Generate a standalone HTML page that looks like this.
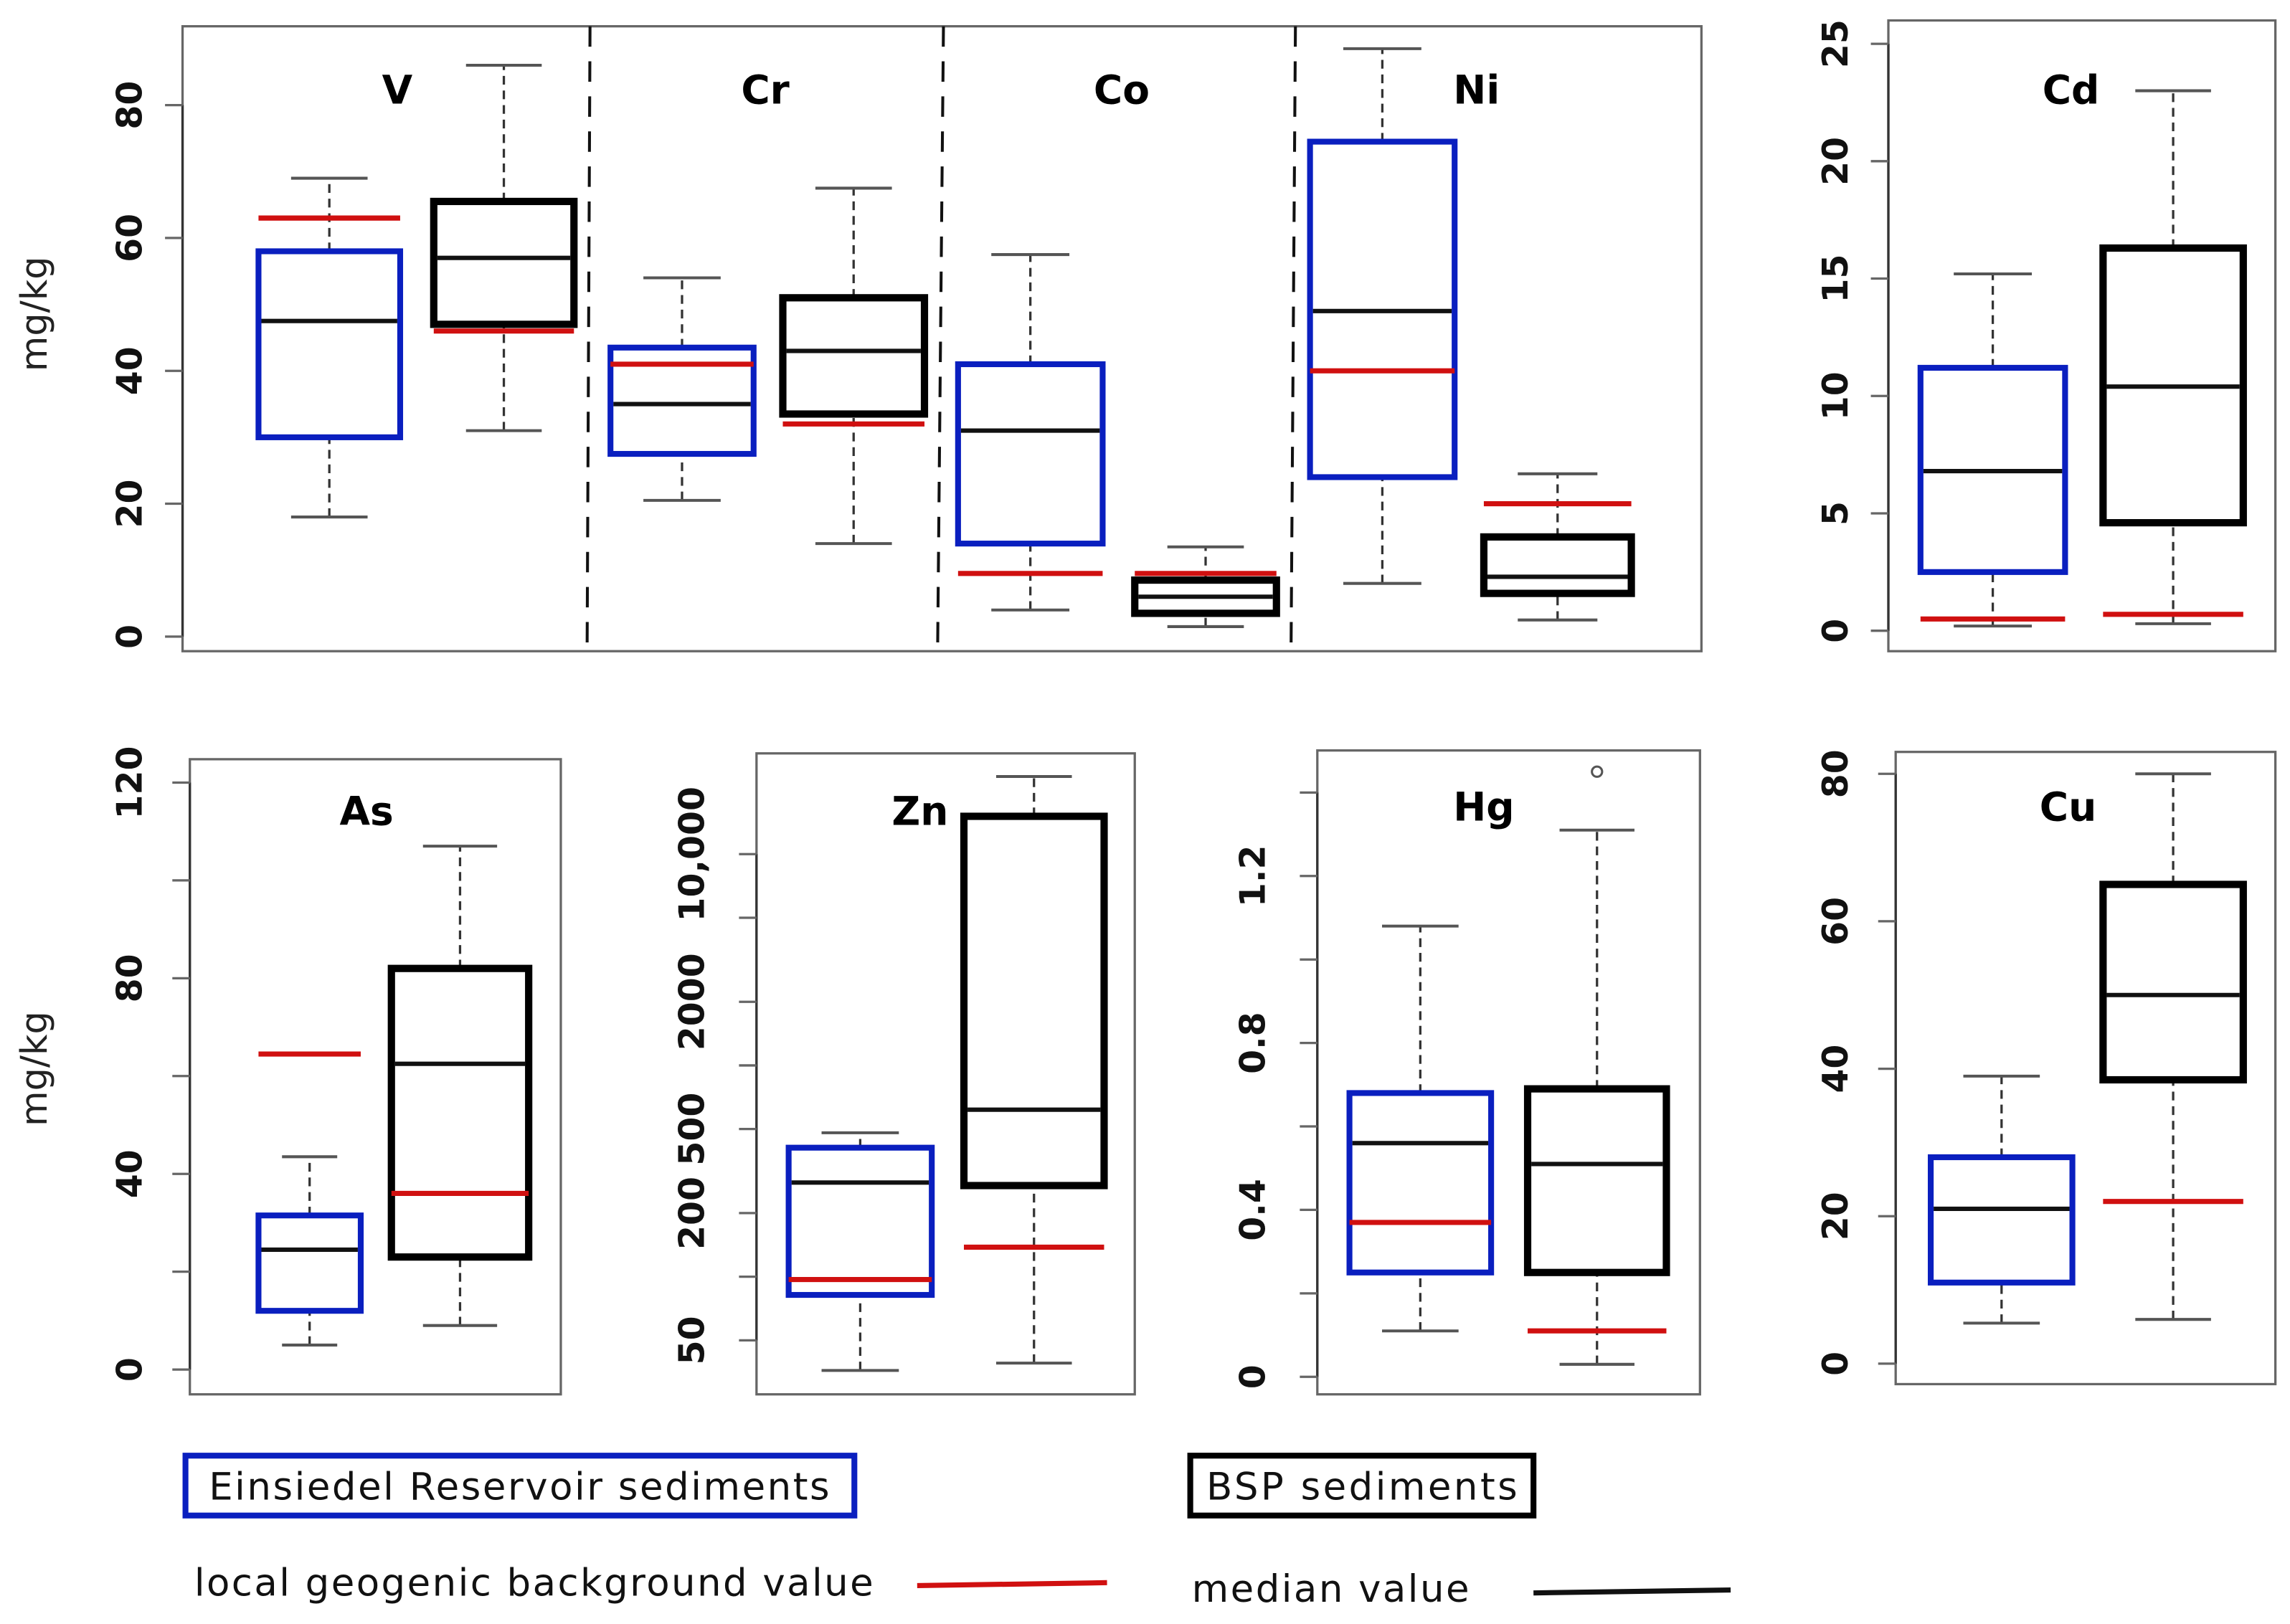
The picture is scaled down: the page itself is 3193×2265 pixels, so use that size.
<!DOCTYPE html>
<html><head><meta charset="utf-8"><style>
html,body{margin:0;padding:0;background:#fff}
svg{display:block}
text{font-family:"DejaVu Sans","Liberation Sans",sans-serif}
</style></head><body>
<svg id="c" width="3193" height="2265" viewBox="0 0 1568 1112.3" preserveAspectRatio="none" xmlns="http://www.w3.org/2000/svg"></svg>
<script>
// ---- data ----
const elements = ["V","Cr","Co","Ni","Cd","As","Zn","Hg","Cu"];
// [whiskerLow, q1, median, q3, whiskerHigh]
const reservoirStats = [
  [18,30,47.5,58,69],[20.5,27.5,35,43.5,54],[4,14,31,41,57.5],[8,24,49,74.5,88.5],
  [0.2,2.5,6.8,11.2,15.2],[5,12,24.5,31.5,43.5],[36,82,279,408,480],[0.11,0.25,0.56,0.68,1.08],[5.5,11,21,28,39]
];
const bspStats = [
  [31,47,57,65.5,86],[14,33.5,43,51,67.5],[1.5,3.5,6,8.5,13.5],[2.5,6.5,9,15,24.5],
  [0.3,4.6,10.4,16.3,23],[9,23,62.5,82,107],[39,270,617,15100,23300],[0.03,0.25,0.51,0.69,1.31],[6,38.5,50,65,80]
];
const reservoirBackground = [63,41,9.5,40,0.5,64.5,97,0.37,null];
const bspBackground = [46,32,9.5,20,0.7,36,138,0.11,22];
const bspOutliers = [[],[],[],[],[],[],[],[1.45],[]];
const tickLabelsMain = ["0","20","40","60","80"];
const tickLabelsCd = ["0","5","10","15","20","25"];
const tickLabelsAs = ["0","40","80","120"];
const tickLabelsZn = ["50","200","500","2000","10,000"];
const tickLabelsHg = ["0","0.4","0.8","1.2"];
const tickLabelsCu = ["0","20","40","60","80"];

const S = document.getElementById('c');
const NS = "http://www.w3.org/2000/svg";
function mk(tag, attrs, parent){ const e=document.createElementNS(NS,tag); for(const k in attrs) e.setAttribute(k,attrs[k]); (parent||S).appendChild(e); return e; }

function linAxis(v0,y0,v1,y1){ return v=>y0+(v-v0)*(y1-y0)/(v1-v0); }
function logAxis(v0,y0,v1,y1){ return v=>y0+(Math.log10(v)-Math.log10(v0))*(y1-y0)/(Math.log10(v1)-Math.log10(v0)); }
const axes = {
  main: linAxis(0,436,80,72),
  Cd: linAxis(0,432,25,30),
  As: linAxis(0,938,120,536),
  Zn: logAxis(50,918,10000,585),
  Hg: linAxis(0,943,1.2,600),
  Cu: linAxis(0,934,80,530)
};
const panels = [
  {name:"main-panel",x:125,y:18,w:1040,h:428,ax:axes.main,ticks:[0,20,40,60,80],minor:[],labels:tickLabelsMain,lx:97},
  {name:"cd-panel",x:1293,y:14,w:265,h:432,ax:axes.Cd,ticks:[0,5,10,15,20,25],minor:[],labels:tickLabelsCd,lx:1265},
  {name:"as-panel",x:130,y:520,w:254,h:435,ax:axes.As,ticks:[0,40,80,120],minor:[20,60,100],labels:tickLabelsAs,lx:97},
  {name:"zn-panel",x:518,y:516,w:259,h:439,ax:axes.Zn,ticks:[50,200,500,2000,10000],minor:[100,1000,5000],labels:tickLabelsZn,lx:482},
  {name:"hg-panel",x:902,y:514,w:262,h:441,ax:axes.Hg,ticks:[0,0.4,0.8,1.2],minor:[0.2,0.6,1.0,1.4],labels:tickLabelsHg,lx:866},
  {name:"cu-panel",x:1298,y:515,w:260,h:433,ax:axes.Cu,ticks:[0,20,40,60,80],minor:[],labels:tickLabelsCu,lx:1265}
];
panels.forEach(p=>{
  const g=mk('g',{});
  
  
  mk('rect',{x:p.x,y:p.y,width:p.w,height:p.h,fill:'none',stroke:'#666','stroke-width':1.6},g);
  const all=p.ticks.concat(p.minor);
  const ys=all.map(p.ax);
  mk('line',{x1:p.x,x2:p.x,y1:Math.min(...ys),y2:Math.max(...ys),stroke:'#333','stroke-width':1.6},g);
  all.forEach(v=>mk('line',{x1:p.x-12,x2:p.x,y1:p.ax(v),y2:p.ax(v),stroke:'#666','stroke-width':1.6},g));
  p.ticks.forEach((v,i)=>{
    const t=mk('text',{x:p.lx,y:p.ax(v),transform:`rotate(-90 ${p.lx} ${p.ax(v)})`,'text-anchor':'middle','font-size':24,'font-weight':'bold',fill:'#111'},g);
    
    
    t.textContent=p.labels[i];
  });
});
[[404,402],[646,642],[887,884]].forEach(d=>{
  const l=mk('line',{x1:d[0],y1:18,x2:d[1],y2:446,stroke:'#111','stroke-width':2,'stroke-dasharray':'14,10'});
  
  
});
const boxX = [[177,274,297,393],[418,516,536,633],[656,755,777,874],[897,996,1016,1117],[1315,1414,1440,1536],[177,247,268,362],[540,638,660,756],[924,1021,1046,1141],[1322,1419,1440,1536]];
const boxAxis = [axes.main,axes.main,axes.main,axes.main,axes.Cd,axes.As,axes.Zn,axes.Hg,axes.Cu];
const titlePos = [[272,62],[524,62],[768,62],[1011,62],[1418,62],[251,556],[630,556],[1016,553],[1416,553]];
function drawBox(st,x0,x1,ax,color,sw,name){
  const g=mk('g',{});
  
  
  const cx=(x0+x1)/2, wq=(x1-x0)*0.18;
  mk('line',{x1:cx,x2:cx,y1:ax(st[0]),y2:ax(st[1]),stroke:'#333','stroke-width':1.6,'stroke-dasharray':'6,4'},g);
  mk('line',{x1:cx,x2:cx,y1:ax(st[3]),y2:ax(st[4]),stroke:'#333','stroke-width':1.6,'stroke-dasharray':'6,4'},g);
  mk('line',{x1:cx-wq*1.5,x2:cx+wq*1.5,y1:ax(st[0]),y2:ax(st[0]),stroke:'#555','stroke-width':2},g);
  mk('line',{x1:cx-wq*1.5,x2:cx+wq*1.5,y1:ax(st[4]),y2:ax(st[4]),stroke:'#555','stroke-width':2},g);
  mk('rect',{x:x0,y:ax(st[3]),width:x1-x0,height:ax(st[1])-ax(st[3]),fill:'none',stroke:color,'stroke-width':sw},g);
  mk('line',{x1:x0+sw/2,x2:x1-sw/2,y1:ax(st[2]),y2:ax(st[2]),stroke:'#111','stroke-width':3},g);
}
function drawRed(v,x0,x1,ax){
  if(v===null) return;
  const l=mk('line',{x1:x0,x2:x1,y1:ax(v),y2:ax(v),stroke:'#d01010','stroke-width':3.5});
  
  
}
elements.forEach((el,i)=>{
  const bx=boxX[i], ax=boxAxis[i];
  drawBox(reservoirStats[i],bx[0],bx[1],ax,'#0a1fbf',4,'reservoir-box-'+el.toLowerCase());
  drawBox(bspStats[i],bx[2],bx[3],ax,'#000',5,'bsp-box-'+el.toLowerCase());
  drawRed(reservoirBackground[i],bx[0],bx[1],ax);
  drawRed(bspBackground[i],bx[2],bx[3],ax);
  bspOutliers[i].forEach(v=>{
    const c=mk('circle',{cx:(bx[2]+bx[3])/2,cy:ax(v),r:3.5,fill:'none',stroke:'#555','stroke-width':1.5});
    
    
  });
  const t=mk('text',{x:titlePos[i][0],y:titlePos[i][1]+9,'text-anchor':'middle','font-size':27,'font-weight':'bold','font-family':'Liberation Sans, sans-serif',fill:'#000'});
  
  
  t.textContent=el;
});
</script>
<svg style="position:absolute;left:0;top:0" width="3193" height="2265" viewBox="0 0 1568 1112.3" preserveAspectRatio="none" xmlns="http://www.w3.org/2000/svg">
  <text x="32" y="215" transform="rotate(-90 32 215)" text-anchor="middle" font-size="25" fill="#222">mg/kg</text>
  <text x="32" y="732" transform="rotate(-90 32 732)" text-anchor="middle" font-size="25" fill="#222">mg/kg</text>
  <g>
    <rect x="127" y="997" width="458" height="41" fill="none" stroke="#0a1fbf" stroke-width="4"/>
    <text x="143" y="1027" font-size="26" fill="#111" textLength="425" lengthAdjust="spacing">Einsiedel Reservoir sediments</text>
  </g>
  <g>
    <rect x="815" y="997" width="235" height="41" fill="none" stroke="#000" stroke-width="4"/>
    <text x="826" y="1027" font-size="26" fill="#111" textLength="213" lengthAdjust="spacing">BSP sediments</text>
  </g>
  <g>
    <text x="133" y="1093" font-size="26" fill="#111" textLength="465" lengthAdjust="spacing">local geogenic background value</text>
    <line x1="628" y1="1086" x2="758" y2="1084" stroke="#d01010" stroke-width="3.5"/>
  </g>
  <g>
    <text x="816" y="1097" font-size="26" fill="#111" textLength="190" lengthAdjust="spacing">median value</text>
    <line x1="1050" y1="1091" x2="1185" y2="1089" stroke="#111" stroke-width="3.5"/>
  </g>
</svg>
</body></html>
